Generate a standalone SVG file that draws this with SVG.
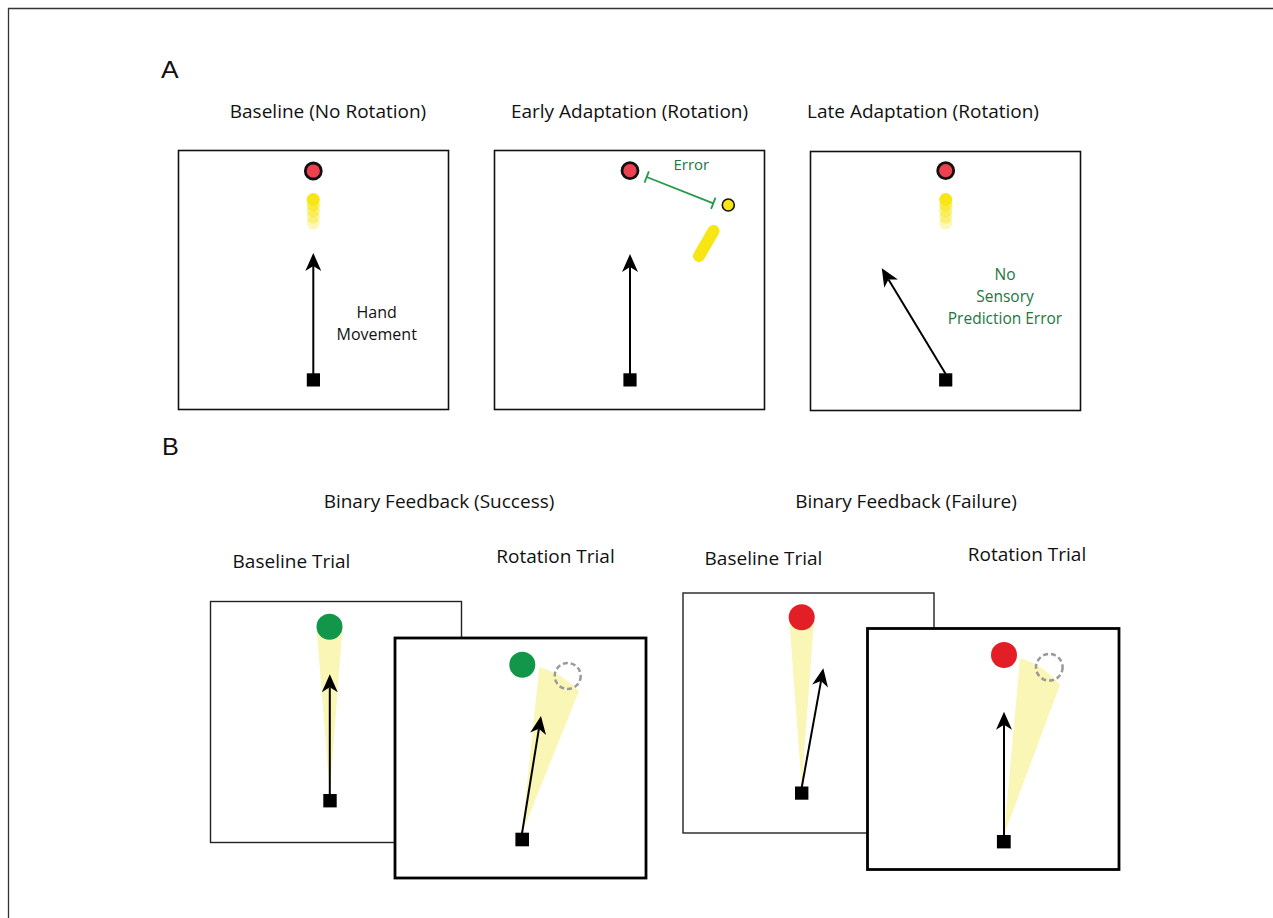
<svg xmlns="http://www.w3.org/2000/svg" width="1273" height="918" viewBox="0 0 1273 918">
<style>
text{font-family:"Open Sans","Liberation Sans",sans-serif;fill:#111}
.ttl{font-size:19px;text-anchor:middle}
.lbl{font-size:16px;text-anchor:middle}
.grn{fill:#22773f}
.panel{font-family:"Liberation Sans",sans-serif;font-size:24px}
.boxA{fill:#fff;stroke:#111;stroke-width:1.6}
.boxB{fill:#fff;stroke:#222;stroke-width:1.4}
.boxR{fill:#fff;stroke:#000;stroke-width:2.8}
.tgt{fill:#ee4150;stroke:#111;stroke-width:2.8}
.ydot{fill:#f7e614}
.start{fill:#000}
.arr{stroke:#000;stroke-width:2;fill:none;marker-end:url(#ah)}
.cone{fill:#faf6b6}
.dash{fill:none;stroke:#9a9a9a;stroke-width:2.5;stroke-dasharray:5 3}
</style>
<defs>
<marker id="ah" markerUnits="userSpaceOnUse" viewBox="-6 -9 20 18" refX="0" refY="0" markerWidth="20" markerHeight="18" orient="auto">
<path d="M13,0 L-5,-8 L0,0 L-5,8 Z" fill="#000"/>
</marker>
</defs>
<rect width="1273" height="918" fill="#fff"/>
<path d="M8.5,918 V8.5 H1273" fill="none" stroke="#333" stroke-width="1.3"/>

<text class="panel" transform="translate(161,78) scale(1.1,1)">A</text>
<text class="panel" transform="translate(162,455) scale(1.05,1)">B</text>

<g id="a-baseline">
<text class="ttl" x="328" y="118">Baseline (No Rotation)</text>
<rect class="boxA" x="178.5" y="150.5" width="270" height="259"/>
<circle class="tgt" cx="313.3" cy="171" r="8"/>
<circle class="ydot" cx="313.3" cy="223" r="6.5" opacity="0.3"/>
<circle class="ydot" cx="313.3" cy="217" r="6.5" opacity="0.4"/>
<circle class="ydot" cx="313.3" cy="211" r="6.5" opacity="0.5"/>
<circle class="ydot" cx="313.3" cy="205" r="6.5" opacity="0.65"/>
<circle class="ydot" cx="313.3" cy="199.5" r="6.5"/>
<rect class="start" x="306.8" y="373.3" width="13.2" height="13.2"/>
<text class="lbl" x="376.7" y="318">Hand</text>
<text class="lbl" x="376.7" y="340">Movement</text>
</g>

<g id="a-early">
<text class="ttl" x="629.5" y="118">Early Adaptation (Rotation)</text>
<rect class="boxA" x="494.5" y="150.5" width="270" height="259"/>
<circle class="tgt" cx="630" cy="170.7" r="8"/>
<line x1="713.5" y1="231" x2="699" y2="256" stroke="#f7e614" stroke-width="12" stroke-linecap="round"/>
<circle cx="728.3" cy="205" r="6" fill="#f7e614" stroke="#111" stroke-width="1.6"/>
<text class="grn" x="691.3" y="170" font-size="15" text-anchor="middle">Error</text>
<rect class="start" x="623.4" y="373.3" width="13.2" height="13.2"/>
</g>

<g id="a-late">
<text class="ttl" x="923" y="118">Late Adaptation (Rotation)</text>
<rect class="boxA" x="810.5" y="151.5" width="270" height="259"/>
<circle class="tgt" cx="945.7" cy="170.7" r="8"/>
<circle class="ydot" cx="945.7" cy="223" r="6.5" opacity="0.3"/>
<circle class="ydot" cx="945.7" cy="217" r="6.5" opacity="0.4"/>
<circle class="ydot" cx="945.7" cy="211" r="6.5" opacity="0.5"/>
<circle class="ydot" cx="945.7" cy="205" r="6.5" opacity="0.65"/>
<circle class="ydot" cx="945.7" cy="199.5" r="6.5"/>
<rect class="start" x="939.1" y="373.3" width="13.2" height="13.2"/>
<text class="grn" x="1005" y="280" font-size="15.5" text-anchor="middle">No</text>
<text class="grn" x="1005" y="302" font-size="15.5" text-anchor="middle">Sensory</text>
<text class="grn" x="1005" y="324" font-size="15.5" text-anchor="middle">Prediction Error</text>
</g>

<text class="ttl" x="439" y="508">Binary Feedback (Success)</text>
<text class="ttl" x="906" y="508">Binary Feedback (Failure)</text>

<g id="b-success-baseline">
<text class="ttl" x="291.5" y="567.5">Baseline Trial</text>
<rect class="boxB" x="210.5" y="601.5" width="251" height="241"/>
<path class="cone" d="M329.8,793 L316.5,627 L342.5,627 Z"/>
<circle cx="329.5" cy="626.7" r="13" fill="#12964a"/>
<rect class="start" x="323.3" y="794" width="13.4" height="13.4"/>
</g>

<g id="b-success-rotation">
<text class="ttl" x="555.5" y="563">Rotation Trial</text>
<rect class="boxR" x="395" y="638" width="251" height="240"/>
<path class="cone" d="M522,833 L539.3,667.3 Q560,672 579,691 Z"/>
<circle class="dash" cx="567.7" cy="676" r="13"/>
<circle cx="522.3" cy="664.7" r="13" fill="#12964a"/>
<rect class="start" x="515.4" y="832.7" width="13.6" height="13.6"/>
</g>

<g id="b-failure-baseline">
<text class="ttl" x="763.5" y="565">Baseline Trial</text>
<rect class="boxB" x="683" y="593" width="251" height="240"/>
<path class="cone" d="M801.7,787 L789.3,620 L814,620 Z"/>
<circle cx="801.7" cy="617.3" r="13" fill="#e31e26"/>
<rect class="start" x="795" y="786.5" width="13.4" height="13.2"/>
</g>

<g id="b-failure-rotation">
<text class="ttl" x="1027" y="561">Rotation Trial</text>
<rect class="boxR" x="867.5" y="628.5" width="251.5" height="241"/>
<path class="cone" d="M1004,835 L1020,658.3 Q1042,664 1060,685 Z"/>
<circle class="dash" cx="1049.3" cy="667.3" r="13.3"/>
<circle cx="1004" cy="655" r="13" fill="#e31e26"/>
<rect class="start" x="996.9" y="835" width="13.8" height="13.4"/>
</g>

<g id="connectors">
<line class="arr" x1="313.3" y1="374" x2="313.3" y2="266"/>
<line class="arr" x1="630" y1="374" x2="630" y2="267"/>
<line class="arr" x1="945.7" y1="374" x2="888.5" y2="279.4"/>
<g stroke="#239a4c" stroke-width="1.8" fill="none">
<line x1="646.7" y1="177" x2="713.3" y2="203.3"/>
<line x1="644.5" y1="182.6" x2="648.9" y2="171.4"/>
<line x1="711.1" y1="208.9" x2="715.5" y2="197.7"/>
</g>
<line class="arr" x1="329.8" y1="795" x2="329.8" y2="687.3"/>
<line class="arr" x1="522" y1="833.5" x2="538.9" y2="728.8"/>
<line class="arr" x1="801.7" y1="787.5" x2="821" y2="681.1"/>
<line class="arr" x1="1004" y1="836" x2="1004" y2="724.7"/>
</g>
</svg>
